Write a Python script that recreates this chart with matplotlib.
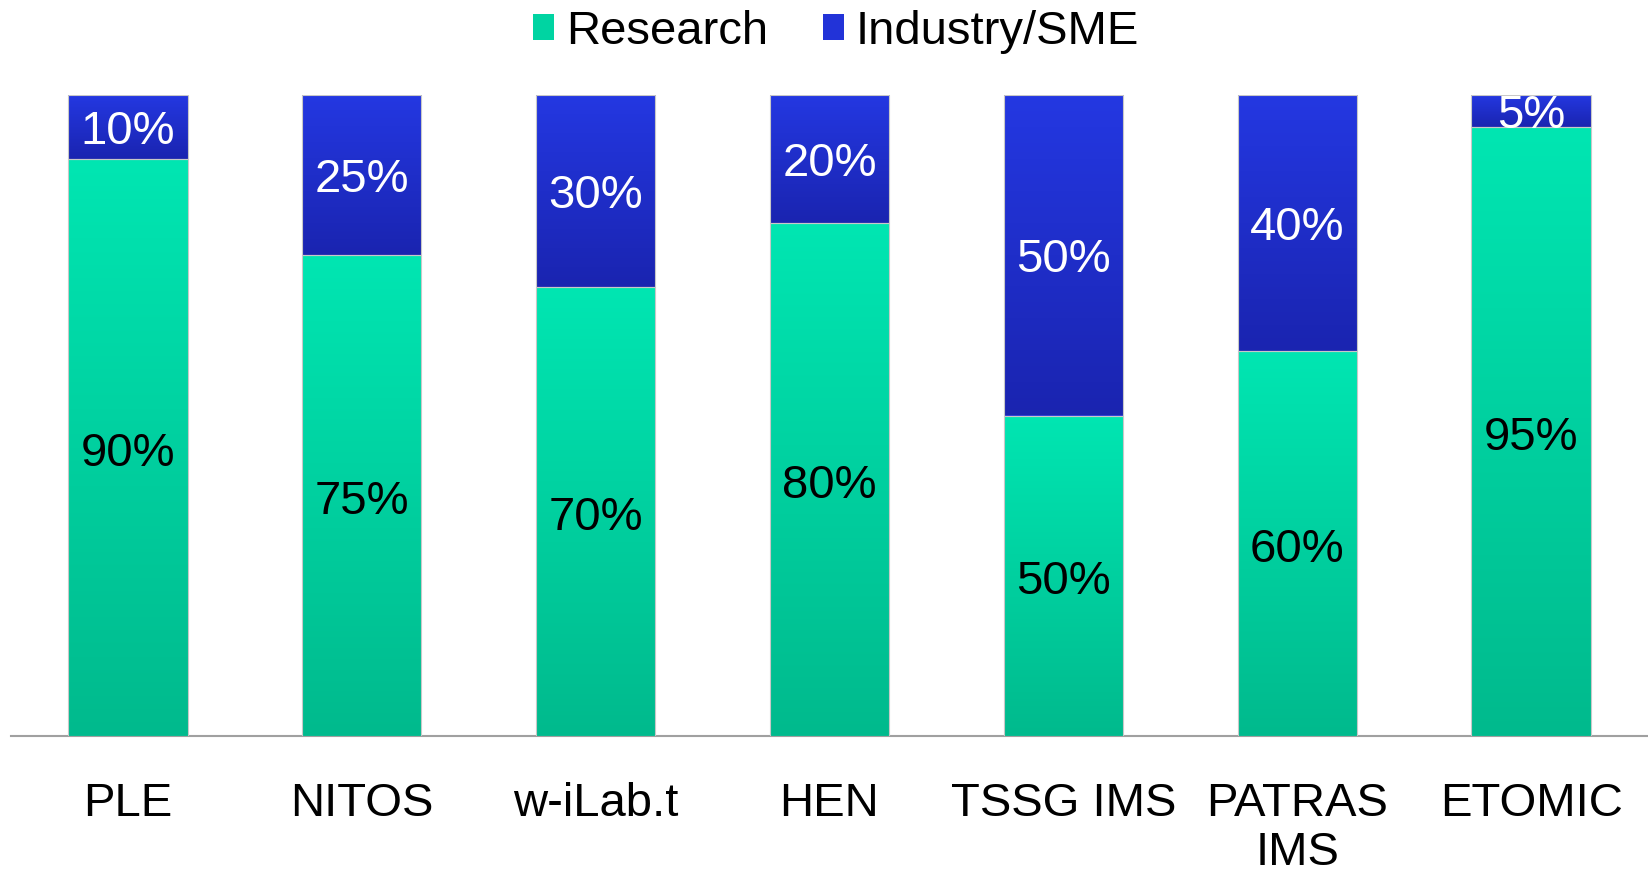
import matplotlib
matplotlib.use("Agg")
import matplotlib.pyplot as plt
import numpy as np
from matplotlib.colors import LinearSegmentedColormap
from matplotlib.patches import Patch

categories = ["PLE", "NITOS", "w-iLab.t", "HEN", "TSSG IMS", "PATRAS\nIMS", "ETOMIC"]
research = [90, 75, 70, 80, 50, 60, 95]
industry = [10, 25, 30, 20, 50, 40, 5]
series_names = ["Research", "Industry/SME"]

plt.rcParams['font.family'] = ['Liberation Sans', 'DejaVu Sans']

fig = plt.figure(figsize=(16.48, 8.73), dpi=100)
ax = fig.add_axes([11/1648, 1 - 736/873, 1 - 11/1648, (736 - 95)/873])

x = np.arange(len(categories))
w = 0.51
green_cmap = LinearSegmentedColormap.from_list("g", ["#00BA8D", "#00E6B2"])
blue_cmap = LinearSegmentedColormap.from_list("b", ["#1A24B0", "#2438E2"])

b1 = ax.bar(x, research, w, color="#00D4A2", edgecolor="none", zorder=2)
b2 = ax.bar(x, industry, w, bottom=research, color="#2233D8", edgecolor="none", zorder=2)

grad = np.linspace(0, 1, 256).reshape(-1, 1)
for bars, cmap in ((b1, green_cmap), (b2, blue_cmap)):
    for p in bars:
        x0, y0 = p.get_x(), p.get_y()
        x1, y1 = x0 + p.get_width(), y0 + p.get_height()
        im = ax.imshow(grad, extent=[x0, x1, y0, y1], origin="lower", cmap=cmap,
                       aspect="auto", zorder=3)
        im.set_clip_path(p)
        ax.add_patch(plt.Rectangle((x0, y0), x1 - x0, y1 - y0, fill=False,
                                   edgecolor="#C8C8C8", lw=0.8, zorder=4))

for i in range(len(categories)):
    ax.text(x[i], research[i] / 2 - 1.0, f"{research[i]}%", ha="center", va="center",
            fontsize=34, color="black", zorder=5)
    ax.text(x[i], research[i] + industry[i] / 2 - 0.8, f"{industry[i]}%", ha="center",
            va="center", fontsize=34, color="white", zorder=5)

ax.set_xlim(-0.5, 6.5)
ax.set_ylim(0, 100)
for s in ["top", "right", "left"]:
    ax.spines[s].set_visible(False)
ax.spines["bottom"].set_color("#A0A0A0")
ax.spines["bottom"].set_linewidth(1.5)
ax.set_yticks([])
ax.set_xticks(x)
ax.set_xticklabels(categories, fontsize=34, linespacing=1.15)
ax.tick_params(axis="x", length=0, pad=33)

handles = [Patch(facecolor="#00D4A2"), Patch(facecolor="#2233D8")]
fig.legend(handles, series_names, loc="center", bbox_to_anchor=(0.5 + 12/1648, 1 - 32/873),
           ncol=2, frameon=False, fontsize=34, handlelength=0.45, handleheight=0.45,
           handletextpad=0.25, columnspacing=1.15)

fig.savefig("out.png", dpi=100)
